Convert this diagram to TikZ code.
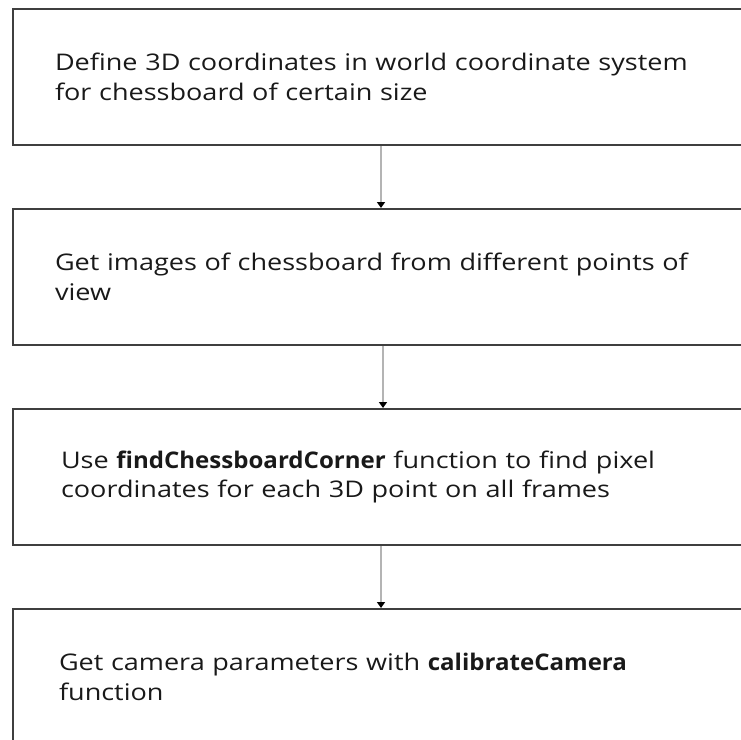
\documentclass[tikz,border=0pt]{standalone}
\usepackage{fontspec}
\setmainfont{Open Sans}[FakeStretch=1.18, BoldFeatures={FakeStretch=1.05}]
\usetikzlibrary{arrows.meta}
\definecolor{boxline}{HTML}{3F3F3F}
\definecolor{arrline}{HTML}{B4B4B4}
\tikzset{
  stepbox/.style={draw=boxline, line width=2bp, rectangle, anchor=north west,
    minimum width=748bp, minimum height=136bp, inner ysep=0bp,
    text width=680bp, align=left, font=\fontsize{23}{30}\selectfont, text=black!90},
  flow/.style={draw=arrline, line width=2.2bp, -{Triangle[width=8bp,length=6bp,fill=black,color=black]}}
}
\begin{document}
\begin{tikzpicture}[x=1bp,y=-1bp]
\useasboundingbox (0,0) rectangle (741,740);
\clip (0,0) rectangle (741,740);
\node[stepbox, inner xsep=42bp] (b1) at (12,8) {Define 3D coordinates in world coordinate system\\for chessboard of certain size};
\node[stepbox, inner xsep=42bp] (b2) at (12,208) {Get images of chessboard from different points of\\view};
\node[stepbox, inner xsep=48bp] (b3) at (12,408) {Use \textbf{findChessboardCorner} function to find pixel\\coordinates for each 3D point on all frames};
\node[stepbox, inner xsep=46bp] (b4) at (12,608) {Get camera parameters with \textbf{calibrateCamera}\\function};
\coordinate (c1) at (381,0);
\coordinate (c2) at (383,0);
\coordinate (c3) at (381,0);
\draw[flow] (c1 |- b1.south) -- (c1 |- b2.north);
\draw[flow] (c2 |- b2.south) -- (c2 |- b3.north);
\draw[flow] (c3 |- b3.south) -- (c3 |- b4.north);
\end{tikzpicture}
\end{document}
